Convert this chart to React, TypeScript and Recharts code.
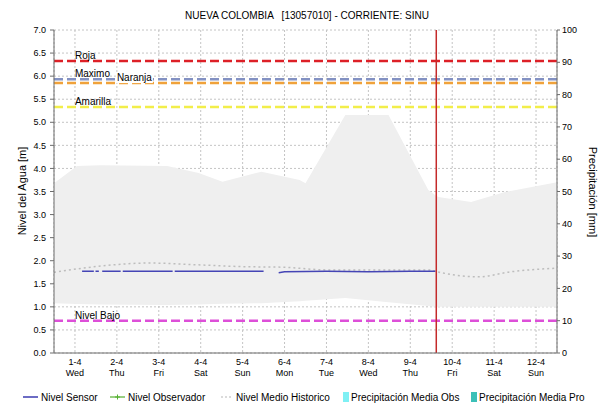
import { ComposedChart, Area, Line, XAxis, YAxis, CartesianGrid, ReferenceLine } from 'recharts';

// x values are in days, 0 = 1-4 (Wed)
const dayLabels = ['1-4', '2-4', '3-4', '4-4', '5-4', '6-4', '7-4', '8-4', '9-4', '10-4', '11-4', '12-4'];
const dayNames = ['Wed', 'Thu', 'Fri', 'Sat', 'Sun', 'Mon', 'Tue', 'Wed', 'Thu', 'Fri', 'Sat', 'Sun'];
const dayTicks = [0, 1, 2, 3, 4, 5, 6, 7, 8, 9, 10, 11];
const levelTicks = [0, 0.5, 1, 1.5, 2, 2.5, 3, 3.5, 4, 4.5, 5, 5.5, 6, 6.5, 7];
const precipTicks = [0, 10, 20, 30, 40, 50, 60, 70, 80, 90, 100];

// historic max / min envelope
const bandX = [-0.5, 0.05, 0.6, 2.2, 2.95, 3.52, 4.45, 5.36, 5.5, 6.45, 7.48, 8.43, 8.6, 8.67, 9.45, 10.26, 11.5];
const bandHigh = [3.68, 4.05, 4.07, 4.05, 3.9, 3.71, 3.93, 3.75, 3.68, 5.16, 5.16, 3.53, 3.42, 3.38, 3.27, 3.49, 3.7];
const bandLow = [1.08, 1.06, 1.05, 1.04, 1.05, 1.07, 1.08, 1.12, 1.13, 1.19, 1.1, 1.02, 1.0, 1.0, 1.0, 1.0, 1.0];

// Nivel Medio Historico
const histX = [-0.5, 0.57, 1.76, 2.95, 4.07, 4.93, 6.05, 7.48, 8.43, 8.74, 9.62, 10.4, 11.5];
const histVal = [1.75, 1.88, 1.95, 1.91, 1.87, 1.86, 1.8, 1.8, 1.8, 1.74, 1.65, 1.76, 1.84];

// Nivel Sensor (null = no reading)
const sensorX = [0.17, 0.45, 0.47, 0.49, 0.57, 0.61, 0.65, 1.09, 1.11, 1.14, 2.33, 2.35, 2.38, 4.5, 4.7, 4.86, 5.0, 6.0, 7.0, 8.0, 8.6];
const sensorVal = [1.77, 1.77, null, 1.77, 1.77, null, 1.77, 1.77, null, 1.77, 1.77, null, 1.77, 1.77, null, 1.74, 1.76, 1.77, 1.76, 1.77, 1.77];

// Precipitación Media Obs (no readings in this period)
const precipX = [0, 1, 2, 3, 4, 5, 6, 7, 8, 9, 10, 11];
const precipObs = [null, null, null, null, null, null, null, null, null, null, null, null];

const thresholds = [
  { name: 'Roja', value: 6.33, color: '#dd2027', labelDay: 0 },
  { name: 'Maximo', value: 5.93, color: '#8391c2', labelDay: 0 },
  { name: 'Naranja', value: 5.85, color: '#f0a23a', labelDay: 1 },
  { name: 'Amarilla', value: 5.33, color: '#f2ee4a', labelDay: 0 },
  { name: 'Nivel Bajo', value: 0.7, color: '#dd4fd8', labelDay: 0 },
];
const nowDay = 8.62;

const bandData = bandX.map((x, i) => ({ x, range: [bandLow[i], bandHigh[i]] }));
const histData = histX.map((x, i) => ({ x, v: histVal[i] }));
const sensorData = sensorX.map((x, i) => ({ x, v: sensorVal[i] }));
const precipData = precipX.map((x, i) => ({ x, v: precipObs[i] }));

const FONT = '"Liberation Sans", Arial, sans-serif';
const DAY_PX = 503 / 12;

function DayTick({ x, y, payload }: any) {
  return (
    <g>
      <text x={x} y={y + 12} textAnchor="middle" fontSize={9} fill="#000" fontFamily={FONT}>{dayLabels[payload.value]}</text>
      <text x={x} y={y + 23} textAnchor="middle" fontSize={9} fill="#000" fontFamily={FONT}>{dayNames[payload.value]}</text>
    </g>
  );
}

function thresholdLabel(t: any) {
  return (props: any) => {
    const vb = props.viewBox || {};
    const lx = vb.x + (t.labelDay + 0.5) * DAY_PX;
    const ly = vb.y - 2;
    return (
      <g>
        {t.name === 'Naranja' && <rect x={lx - 1} y={ly - 8} width={37} height={10} fill="#fff" />}
        <text x={lx} y={ly} fontSize={10} fill="#000" fontFamily={FONT}>{t.name}</text>
      </g>
    );
  };
}

function LegendRow() {
  const at = (left: number) => ({ position: 'absolute', left, top: 0, display: 'flex', alignItems: 'center', height: 14 } as const);
  return (
    <div style={{ position: 'absolute', left: 0, top: 390, width: 598, height: 14, fontFamily: FONT, fontSize: 10, color: '#000', whiteSpace: 'nowrap' }}>
      <div style={at(23)}>
        <svg width={16} height={10}><line x1={0} y1={5} x2={15} y2={5} stroke="#3b3bb0" strokeWidth={1.5} /></svg>
        <span style={{ marginLeft: 2 }}>Nivel Sensor</span>
      </div>
      <div style={at(110)}>
        <svg width={16} height={10}><line x1={0} y1={5} x2={15} y2={5} stroke="#55b030" strokeWidth={1.2} /><line x1={7.5} y1={2.5} x2={7.5} y2={7.5} stroke="#55b030" /><line x1={5} y1={5} x2={10} y2={5} stroke="#55b030" /></svg>
        <span style={{ marginLeft: 2 }}>Nivel Observador</span>
      </div>
      <div style={at(221)}>
        <svg width={13} height={10}><line x1={0} y1={5} x2={12} y2={5} stroke="#b8b8b8" strokeWidth={1.2} strokeDasharray="2 2" /></svg>
        <span style={{ marginLeft: 2 }}>Nivel Medio Historico</span>
      </div>
      <div style={at(343)}>
        <svg width={6} height={10}><rect x={0} y={0} width={6} height={10} fill="#7ff0f4" /></svg>
        <span style={{ marginLeft: 2 }}>Precipitación Media Obs</span>
      </div>
      <div style={at(471)}>
        <svg width={6} height={10}><rect x={0} y={0} width={6} height={10} fill="#3cc0b8" /></svg>
        <span style={{ marginLeft: 2 }}>Precipitación Media Pro</span>
      </div>
    </div>
  );
}

export default function App() {
  return (
    <div style={{ position: 'absolute', left: 0, top: 0, width: 598, height: 404, background: '#fff', overflow: 'hidden' }}>
      <div style={{ position: 'absolute', left: 0, top: 10, width: 614, textAlign: 'center', fontFamily: FONT, fontSize: 10, color: '#000', whiteSpace: 'pre' }}>
        {'NUEVA COLOMBIA   [13057010] - CORRIENTE: SINU'}
      </div>
      <ComposedChart width={598} height={404} margin={{ top: 30, right: 0, left: 0, bottom: 21 }}>
        <CartesianGrid yAxisId="left" stroke="#c4c4c4" strokeDasharray="2 2" />
        <XAxis
          dataKey="x"
          type="number"
          domain={[-0.5, 11.5]}
          ticks={dayTicks}
          interval={0}
          allowDataOverflow
          height={30}
          tickSize={0}
          tickMargin={0}
          tick={<DayTick />}
          stroke="#6c6c6c"
        />
        <YAxis
          yAxisId="left"
          domain={[0, 7]}
          ticks={levelTicks}
          interval={0}
          width={54}
          tickSize={4}
          tickMargin={4}
          tickFormatter={(v: number) => v.toFixed(1)}
          tick={{ fontSize: 9, fill: '#000', fontFamily: FONT }}
          stroke="#6c6c6c"
          label={() => (
            <text x={26} y={191} transform="rotate(-90 26 191)" textAnchor="middle" fontSize={11} fill="#000" fontFamily={FONT}>Nivel del Agua [m]</text>
          )}
        />
        <YAxis
          yAxisId="right"
          orientation="right"
          type="number"
          domain={[0, 100]}
          allowDataOverflow
          ticks={precipTicks}
          interval={0}
          width={41}
          tickSize={3}
          tickMargin={2}
          tick={{ fontSize: 9, fill: '#000', fontFamily: FONT }}
          stroke="#6c6c6c"
          label={() => (
            <text x={589} y={192} transform="rotate(90 589 192)" textAnchor="middle" fontSize={11} fill="#000" fontFamily={FONT}>Precipitación [mm]</text>
          )}
        />
        <Area
          yAxisId="left"
          data={bandData}
          dataKey="range"
          type="linear"
          stroke="none"
          fill="#efefef"
          fillOpacity={1}
          isAnimationActive={false}
        />
        <Line
          yAxisId="right"
          data={precipData}
          dataKey="v"
          stroke="#7ff0f4"
          dot={false}
          isAnimationActive={false}
        />
        <Line
          yAxisId="left"
          data={histData}
          dataKey="v"
          type="monotone"
          stroke="#bdbdbd"
          strokeWidth={1.5}
          strokeDasharray="2 3"
          dot={false}
          isAnimationActive={false}
        />
        <Line
          yAxisId="left"
          data={sensorData}
          dataKey="v"
          type="linear"
          stroke="#4545b5"
          strokeWidth={1.5}
          dot={false}
          connectNulls={false}
          isAnimationActive={false}
        />
        {thresholds.map((t) => (
          <ReferenceLine
            key={t.name}
            yAxisId="left"
            y={t.value}
            stroke={t.color}
            strokeWidth={2.5}
            strokeDasharray="9 4"
            label={thresholdLabel(t)}
          />
        ))}
        <ReferenceLine yAxisId="left" x={nowDay} stroke="#c42a2a" strokeWidth={1.5} />
      </ComposedChart>
      <LegendRow />
    </div>
  );
}
